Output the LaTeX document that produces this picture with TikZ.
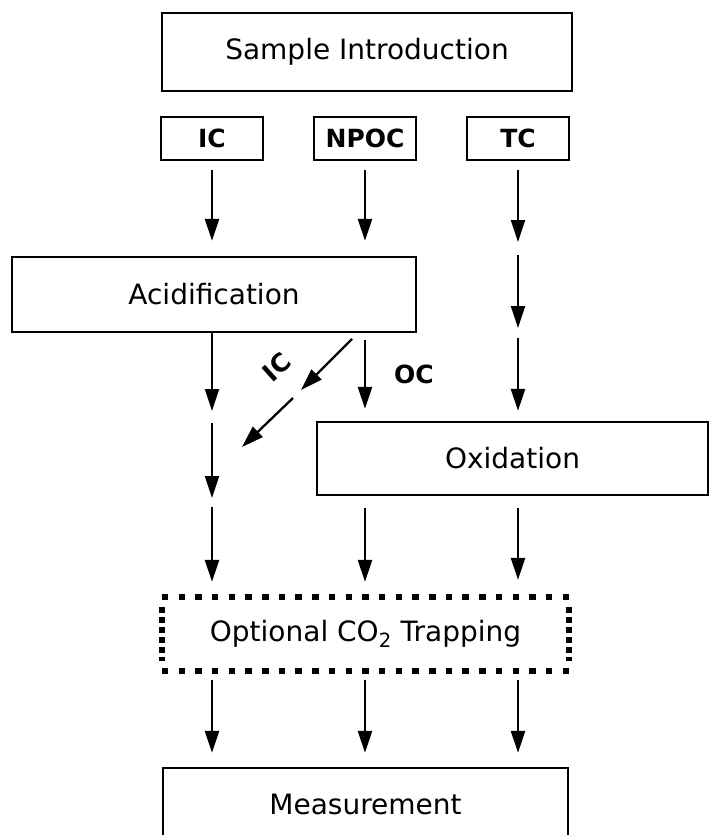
\documentclass[tikz,border=0pt]{standalone}
\usepackage{fontspec}
\setmainfont{DejaVu Sans}
\usetikzlibrary{arrows.meta,positioning}
\tikzstyle{block} = [rectangle, draw, line width=2.3pt, inner sep=0pt, font=\fontsize{28}{33}\selectfont]
\tikzstyle{tag} = [rectangle, draw, line width=2.3pt, inner sep=0pt, minimum width=102pt, minimum height=43pt, font=\fontsize{25}{29}\selectfont\bfseries]
\tikzstyle{lab} = [inner sep=0pt, font=\fontsize{25}{29}\selectfont\bfseries]
\tikzstyle{arr} = [line width=2.3pt, -{Triangle[length=22pt,width=14pt]}]
\tikzstyle{dotrow} = [line width=6.5pt, dash pattern=on 6.5pt off 10.2pt]
\tikzstyle{dotcol} = [line width=6.5pt, dash pattern=on 6pt off 4pt]

\begin{document}
\begin{tikzpicture}[x=1pt,y=-1pt]
        \useasboundingbox (0,0) rectangle (710,835);
        \clip (0,0) rectangle (710,835);

        \node[block, minimum width=410pt, minimum height=78pt] (samp) at (367,52) {Sample Introduction};
        \node[tag] (npoc) at (365,138.5) {NPOC};
        \node[tag, left of=npoc, node distance=153pt] (ic) {IC};
        \node[tag, right of=npoc, node distance=153pt] (tc) {TC};

        \node[block, minimum width=404pt, minimum height=75pt] (acid) at (214,294.5) {Acidification};
        \node[block, minimum width=391pt, minimum height=73pt] (oxid) at (512.5,458.5) {Oxidation};
        \node[block, draw=none, minimum width=405pt, minimum height=72pt] (trap) at (365.5,634) {Optional CO\textsubscript{2} Trapping};
        \node[block, minimum width=405pt, minimum height=73pt] (meas) at (365.5,804.5) {Measurement};

        % dotted frame of the trap
        \draw[dotrow] (trap.north west) -- (trap.north east);
        \draw[dotrow] (trap.south west) -- (trap.south east);
        \draw[dotcol] ([yshift=-10pt]trap.north west) -- ([yshift=10pt]trap.south west);
        \draw[dotcol] ([yshift=-10pt]trap.north east) -- ([yshift=10pt]trap.south east);

        % gaps on the columns
        \coordinate (icA) at (212,411);
        \coordinate (icB) at (212,423);
        \coordinate (icC) at (212,498);
        \coordinate (icD) at (212,507);
        \coordinate (tcA) at (518,242);
        \coordinate (tcB) at (518,255);
        \coordinate (tcC) at (518,328);
        \coordinate (tcD) at (518,338);
        \coordinate (dA) at (352,339);
        \coordinate (dB) at (301,390);
        \coordinate (dC) at (293,398);
        \coordinate (dD) at (242,447);

        \draw[arr] ([yshift=-9pt]ic.south) -- ([yshift=15pt]ic.south |- acid.north);
        \draw[arr] ([yshift=-9pt]npoc.south) -- ([yshift=15pt]npoc.south |- acid.north);
        \draw[arr] ([yshift=-9pt]tc.south) -- (tcA);
        \draw[arr] (tcB) -- (tcC);
        \draw[arr] (tcD) -- ([yshift=10pt]tcD |- oxid.north);

        \draw[arr] (acid.south -| icA) -- (icA);
        \draw[arr] (icB) -- (icC);
        \draw[arr] (icD) -- ([yshift=15pt]icD |- trap.north);
        \draw[arr] ([yshift=-7pt]acid.south -| npoc) -- ([yshift=12pt]oxid.north -| npoc)
                node[lab, midway, right=28pt] (oc) {OC};
        \draw[arr] (dA) -- (dB);
        \draw[arr] (dC) -- (dD);
        \node[lab, rotate=42] (iclab) at (277,367) {IC};

        \draw[arr] ([yshift=-12pt]oxid.south -| npoc) -- ([yshift=15pt]trap.north -| npoc);
        \draw[arr] ([yshift=-12pt]oxid.south -| tc) -- ([yshift=17pt]trap.north -| tc);

        \draw[arr] ([yshift=-9pt]trap.south -| ic) -- ([yshift=14pt]meas.north -| ic);
        \draw[arr] ([yshift=-9pt]trap.south -| npoc) -- ([yshift=14pt]meas.north -| npoc);
        \draw[arr] ([yshift=-9pt]trap.south -| tc) -- ([yshift=14pt]meas.north -| tc);

    \end{tikzpicture}
\end{document}
